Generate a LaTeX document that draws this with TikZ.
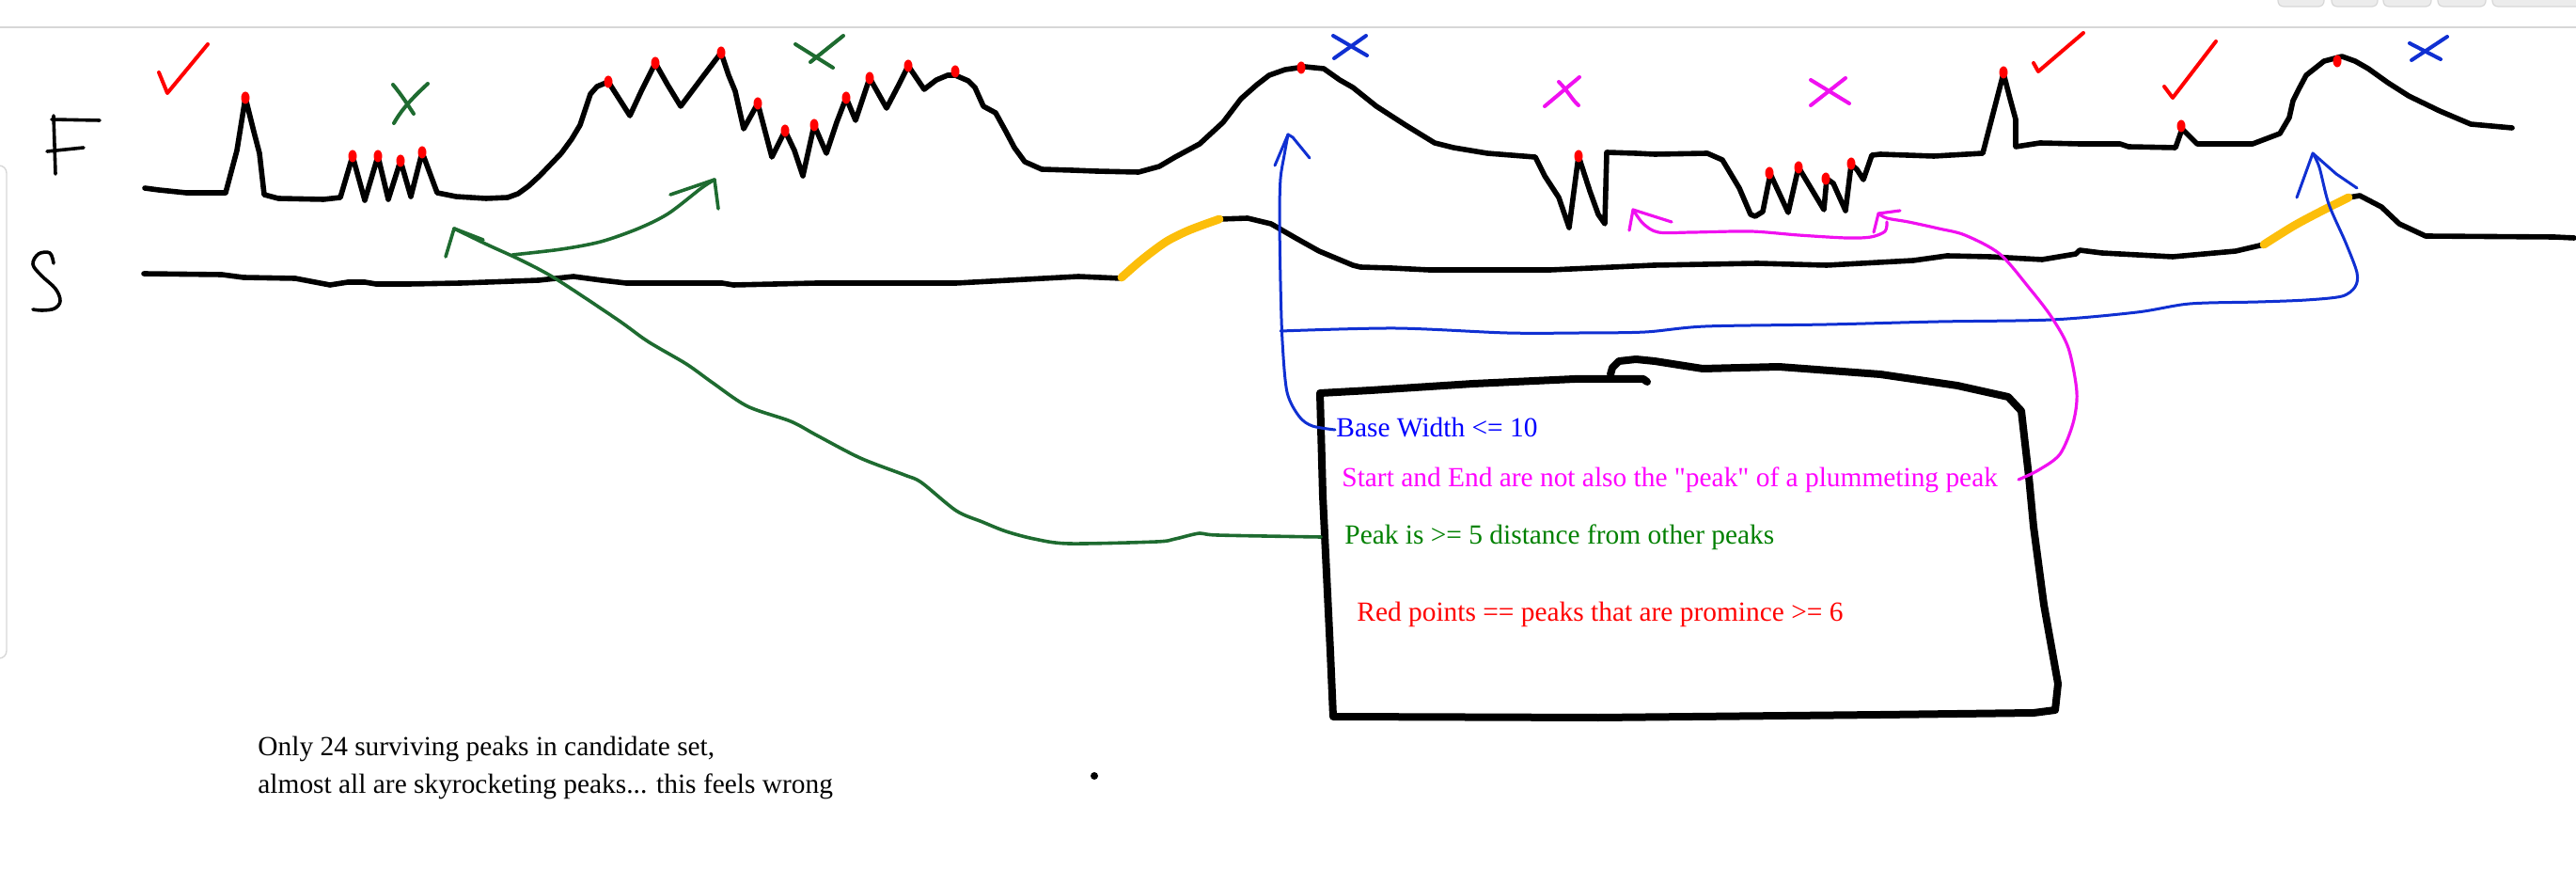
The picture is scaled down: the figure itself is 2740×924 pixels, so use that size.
\documentclass[tikz,border=0pt]{standalone}
\usepackage{fontspec}
\setmainfont{Liberation Serif}
\newcommand\mydq{\XeTeXglyph\XeTeXcharglyph 34\relax}
\definecolor{pblue}{RGB}{16,48,210}
\definecolor{tblue}{RGB}{0,0,255}
\definecolor{pgreen}{RGB}{30,107,48}
\definecolor{tgreen}{RGB}{0,128,0}
\definecolor{pmag}{RGB}{240,16,240}
\definecolor{tmag}{RGB}{255,0,255}
\definecolor{pred}{RGB}{255,0,0}
\definecolor{porange}{RGB}{252,190,10}
\definecolor{uigray}{RGB}{215,215,215}
\definecolor{uibtn}{RGB}{236,236,236}
\begin{document}
\begin{tikzpicture}[x=0.5pt,y=-0.5pt,line cap=round,line join=round,
  curve/.style={black,line width=2.8pt},
  boxpen/.style={black,line width=4pt},
  orangepen/.style={porange,line width=4.4pt},
  bluepen/.style={pblue,line width=1.5pt},
  greenpen/.style={pgreen,line width=1.8pt},
  magpen/.style={pmag,line width=1.6pt},
  markpen/.style={line width=2pt},
  reddot/.style={pred},
  txt/.style={anchor=base west,inner sep=0pt,font=\fontsize{14.7}{17}\selectfont}]
\useasboundingbox (0,0) rectangle (2740,924);
% UI chrome
\draw[uigray,line width=0.8pt] (0,29) -- (2740,29);
\foreach \a/\b in {2423/2472,2480/2529,2535/2586,2593/2644,2651/2760}
  \draw[uigray,fill=uibtn,line width=0.6pt,rounded corners=3] (\a,-10) rectangle (\b,7);
\draw[uigray,line width=0.7pt,rounded corners=4] (-10,176) -- (7,176) -- (7,700) -- (-10,700);
% letters F and S
\draw[markpen,line width=1.8pt] (57,123) -- (59,185);
\draw[markpen,line width=1.8pt] (55,127) -- (106,128);
\draw[markpen,line width=1.8pt] (50,161) -- (89,157);
\draw[markpen,line width=1.8pt] plot[smooth,tension=0.6] coordinates {(57,280) (53,269) (41,270) (35,281) (44,293) (59,307) (64,320) (58,328) (45,330) (35,329)};
% F curve
\draw[curve] (154,200) -- (169,202) -- (198,205) -- (240,205) -- (252,160) -- (261,104) -- (270,140) -- (276,163) -- (281,207) -- (296,211) -- (344,212) -- (362,210) -- (375,166) -- (388,213) -- (402,166) -- (413,212) -- (426,171) -- (437,209) -- (449,162) -- (465,205) -- (485,209) -- (517,211) -- (540,210) -- (551,206) -- (562,198) -- (574,187) -- (597,163) -- (608,148) -- (617,133) -- (623,115) -- (628,100) -- (635,92) -- (647,87) -- (670,123) -- (683,95) -- (697,67) -- (710,90) -- (724,113) -- (745,85) -- (767,56) -- (775,80) -- (782,97) -- (791,137) -- (806,110) -- (821,167) -- (835,139) -- (845,160) -- (854,187) -- (866,133) -- (879,163) -- (890,130) -- (900,104) -- (910,128) -- (925,83) -- (943,115) -- (955,92) -- (966,70) -- (983,95) -- (996,85) -- (1008,80) -- (1016,80) -- (1030,86) -- (1037,93) -- (1046,113) -- (1059,120) -- (1070,140) -- (1079,157) -- (1090,172) -- (1108,180) -- (1140,181) -- (1166,182) -- (1211,183) -- (1233,177) -- (1250,167) -- (1276,153) -- (1301,130) -- (1320,105) -- (1337,90) -- (1350,80) -- (1367,74) -- (1388,71) -- (1408,73) -- (1425,85) -- (1439,93) -- (1464,113) -- (1495,133) -- (1526,152) -- (1546,157) -- (1582,163) -- (1633,167) -- (1643,187) -- (1658,210) -- (1669,242) -- (1679,166) -- (1691,203) -- (1700,228) -- (1707,238) -- (1709,162) -- (1740,163) -- (1760,164) -- (1816,163) -- (1832,170) -- (1850,200) -- (1862,228) -- (1867,230) -- (1875,225) -- (1883,185) -- (1902,226) -- (1913,178) -- (1940,223) -- (1943,190) -- (1950,195) -- (1963,224) -- (1969,175) -- (1975,180) -- (1982,191) -- (1991,165) -- (2000,164) -- (2057,166) -- (2109,163) -- (2131,78) -- (2138,105) -- (2144,127) -- (2144,156) -- (2170,152) -- (2212,153) -- (2255,153) -- (2264,156) -- (2314,157) -- (2321,137) -- (2337,153) -- (2396,153) -- (2425,142) -- (2435,125) -- (2439,107) -- (2445,95) -- (2453,80) -- (2472,65) -- (2491,60) -- (2505,65) -- (2519,73) -- (2540,88) -- (2562,102) -- (2595,118) -- (2628,132) -- (2672,136);
% S curve
\draw[curve] (153,291) -- (236,292) -- (259,295) -- (314,296) -- (351,303) -- (370,300) -- (388,300) -- (400,302) -- (435,302) -- (490,301) -- (573,298) -- (610,294) -- (640,298) -- (666,301) -- (768,301) -- (780,303) -- (869,301) -- (1017,301) -- (1073,298) -- (1147,294) -- (1193,296);
\draw[curve] (1297,233) -- (1327,232) -- (1352,238) -- (1378,253) -- (1403,267) -- (1439,282) -- (1447,284) -- (1480,285) -- (1520,287) -- (1649,287) -- (1759,282) -- (1869,280) -- (1943,282) -- (2035,277) -- (2071,272) -- (2117,273) -- (2172,276) -- (2208,270) -- (2212,266) -- (2236,269) -- (2311,273) -- (2378,267) -- (2408,260);
\draw[curve] (2498,210) -- (2510,208) -- (2533,220) -- (2552,238) -- (2580,251) -- (2717,252) -- (2738,253);
\draw[orangepen] plot[smooth] coordinates {(1193,295) (1210,280) (1225,268) (1242,256) (1262,246) (1280,239) (1297,233)};
\draw[orangepen] plot[smooth] coordinates {(2408,260) (2440,240) (2470,224) (2498,210)};
% red dots
\foreach \p in {(261,104),(375,166),(402,166),(426,171),(449,162),(647,87),(697,67),(767,56),(806,110),(835,139),(866,133),(900,104),(925,83),(966,70),(1016,76),(1384,72),(1679,166),(1882,184),(1913,178),(1942,190),(1969,174),(2131,77),(2320,134),(2486,65)}
  \fill[reddot] \p ellipse[x radius=4.5,y radius=6.5];
% checks and crosses
\draw[pred,markpen] (169,77) -- (178,99) -- (221,47);
\draw[pred,markpen] (2163,67) -- (2168,76) -- (2216,35);
\draw[pred,markpen] (2302,92) -- (2311,104) -- (2357,44);
\draw[pgreen,markpen] (418,90) .. controls (428,102) and (434,112) .. (440,121);
\draw[pgreen,markpen] (455,89) .. controls (440,103) and (428,115) .. (419,131);
\draw[pgreen,markpen] (846,47) -- (886,72);
\draw[pgreen,markpen] (897,38) -- (862,66);
\draw[pblue,markpen] (1418,38) -- (1454,59);
\draw[pblue,markpen] (1453,38) -- (1419,62);
\draw[pmag,markpen] (1680,82) -- (1643,113);
\draw[pmag,markpen] (1658,87) .. controls (1668,97) and (1672,106) .. (1679,112);
\draw[pmag,markpen] (1926,85) -- (1967,110);
\draw[pmag,markpen] (1963,83) -- (1926,112);
\draw[pblue,markpen] (2563,46) -- (2596,63);
\draw[pblue,markpen] (2603,39) -- (2565,64);
% box
\draw[boxpen] (1752,406) -- (1748,403) -- (1675,403) -- (1567,408) -- (1458,415) -- (1404,418) -- (1407,527) -- (1415,693) -- (1418,762) -- (1700,763) -- (2000,760) -- (2163,758) -- (2186,755) -- (2189,727) -- (2174,643) -- (2163,560) -- (2158,507) -- (2150,437) -- (2136,422) -- (2082,410) -- (2000,398) -- (1892,390) -- (1811,392) -- (1760,384) -- (1740,382) -- (1722,384) -- (1715,391) -- (1713,398);
% texts
\node[txt,text=tblue] (bw) at (1421,465) {Base Width <= 10};
\node[txt,text=tmag] (se) at (1427,518) {Start and End are not also the \mydq peak\mydq{} of a plummeting peak};
\node[txt,text=tgreen] (pk) at (1430,578) {Peak is >= 5 distance from other peaks};
\node[txt,text=pred] (rp) at (1443,660) {Red points == peaks that are promince >= 6};
\node[txt] (n1) at (274,803) {Only 24 surviving peaks in candidate set,};
\node[txt] (n2) at (274,843) {almost all are skyrocketing peaks... this feels wrong};
\fill (1164,825) circle[radius=4];
% connector anchors
\coordinate (bstart) at (1420,457);
\coordinate (btip1) at (1370,143);
\coordinate (bbranch) at (1362,352);
\coordinate (btip2) at (2460,163);
\coordinate (gstart) at (1405,571);
\coordinate (gtip2) at (483,243);
\coordinate (gmid) at (545,271);
\coordinate (gtip1) at (760,191);
\coordinate (mstart) at (2147,510);
\coordinate (mtip1) at (1998,227);
\coordinate (mtip2) at (1737,223);
% blue connectors
\draw[bluepen] plot[smooth,tension=0.5] coordinates {(bstart) (1396,453) (1382,443) (1369,417) (1364,363) (1362,300) (1361,230) (1362,190) (1366,165) (btip1)};
\draw[bluepen] (1356,176) -- (btip1) -- (1375,146) -- (1393,168);
\draw[bluepen] plot[smooth,tension=0.5] coordinates {(bbranch) (1484,349) (1603,354) (1680,354) (1750,353) (1814,347) (1943,345) (2062,342) (2182,340) (2273,332) (2329,323) (2402,321) (2453,319) (2491,315) (2505,305) (2507,290) (2495,258) (2477,217) (2467,178) (btip2)};
\draw[bluepen] (2443,210) -- (btip2) -- (2485,185) -- (2507,200);
% green connectors
\draw[greenpen] plot[smooth,tension=0.5] coordinates {(gstart) (1295,569) (1276,567) (1250,573) (1230,576) (1137,578) (1100,573) (1070,565) (1045,555) (1017,543) (980,513) (962,505) (915,487) (869,463) (841,448) (795,432) (758,407) (730,387) (689,363) (657,340) (592,297) (555,277) (518,260) (gtip2)};
\draw[greenpen] (474,273) -- (gtip2) -- (514,255);
\draw[greenpen] plot[smooth,tension=0.5] coordinates {(gmid) (597,265) (639,257) (679,243) (711,227) (746,200) (gtip1)};
\draw[greenpen] (713,207) -- (gtip1) -- (764,222);
% magenta connectors
\draw[magpen] plot[smooth,tension=0.5] coordinates {(mstart) (2168,500) (2191,483) (2205,450) (2209,417) (2200,370) (2182,337) (2159,307) (2127,270) (2090,250) (2062,243) (2030,236) (2007,232) (mtip1)};
\draw[magpen] (1993,247) -- (mtip1) -- (2021,224);
\draw[magpen] plot[smooth,tension=0.5] coordinates {(2007,236) (2005,246) (1990,252) (1964,253) (1913,250) (1862,246) (1800,247) (1764,247) (1748,238) (mtip2)};
\draw[magpen] (1733,245) -- (mtip2) -- (1778,236);
\end{tikzpicture}
\end{document}
